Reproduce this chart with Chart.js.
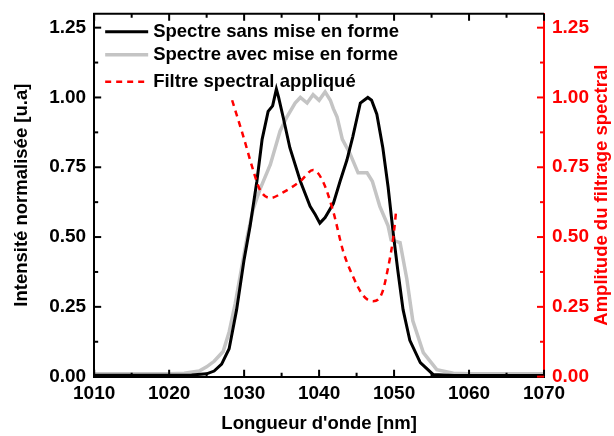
<!DOCTYPE html>
<html>
<head>
<meta charset="utf-8">
<script src="https://cdn.jsdelivr.net/npm/chart.js@4.4.1/dist/chart.umd.min.js"></script>
<style>
  html, body { margin: 0; padding: 0; background: #fff; }
  #wrap { width: 614px; height: 436px; }
</style>
</head>
<body>
<div id="wrap"><canvas id="spectre" width="614" height="436"></canvas></div>
<script>
// Spectre sans mise en forme (noir)
const sansNm = [1010, 1015, 1020, 1023, 1025, 1026, 1027, 1028, 1029, 1030, 1030.8, 1031.7, 1032.4, 1033.2, 1033.8, 1034.3, 1034.6, 1035.2, 1036.1, 1037.5, 1038.8, 1039.5, 1040.1, 1040.8, 1041.9, 1042.8, 1043.7, 1044.5, 1045.5, 1046.0, 1046.5, 1047.0, 1047.7, 1048.5, 1049.2, 1049.9, 1050.5, 1051.2, 1052.1, 1053.5, 1055.2, 1058, 1062, 1066, 1070];
const sansVal = [0.005, 0.005, 0.005, 0.006, 0.01, 0.02, 0.045, 0.10, 0.24, 0.42, 0.54, 0.70, 0.85, 0.95, 0.97, 1.03, 1.00, 0.93, 0.82, 0.70, 0.61, 0.58, 0.55, 0.57, 0.62, 0.70, 0.775, 0.86, 0.98, 0.99, 1.00, 0.99, 0.94, 0.82, 0.68, 0.51, 0.38, 0.24, 0.13, 0.05, 0.008, 0.004, 0.004, 0.004, 0.004];

// Spectre avec mise en forme (gris)
const avecNm = [1010, 1015, 1020, 1022, 1024, 1025, 1026, 1027.2, 1028, 1028.8, 1029.6, 1030.4, 1031.2, 1032.1, 1033.5, 1034.8, 1035.7, 1036.8, 1037.5, 1038.4, 1039.2, 1040, 1040.8, 1041.5, 1041.9, 1042.4, 1043.1, 1044.1, 1045.2, 1046.4, 1047.1, 1048.1, 1049.2, 1049.6, 1050.8, 1051.7, 1052.5, 1053.9, 1055.7, 1057.9, 1060, 1065, 1070];
const avecVal = [0.01, 0.01, 0.01, 0.012, 0.02, 0.035, 0.055, 0.09, 0.16, 0.26, 0.38, 0.50, 0.60, 0.67, 0.76, 0.88, 0.93, 0.98, 1.00, 0.98, 1.01, 0.99, 1.02, 0.99, 0.96, 0.93, 0.85, 0.80, 0.73, 0.73, 0.70, 0.61, 0.54, 0.49, 0.48, 0.35, 0.20, 0.086, 0.025, 0.012, 0.01, 0.01, 0.01];

// Filtre spectral appliqué (rouge, axe de droite)
const filtreNm = [1028.4, 1029.9, 1031.2, 1032.1, 1033.5, 1035.2, 1037.5, 1039.2, 1040.5, 1041.9, 1043.2, 1044.5, 1045.9, 1047.2, 1048.4, 1049.2, 1049.9, 1050.3];
const filtreVal = [0.99, 0.86, 0.74, 0.67, 0.64, 0.66, 0.70, 0.74, 0.70, 0.59, 0.45, 0.36, 0.29, 0.27, 0.30, 0.39, 0.50, 0.60];

const xTicks = [1010, 1020, 1030, 1040, 1050, 1060, 1070];
const yTicks = [0, 0.25, 0.5, 0.75, 1.0, 1.25];
const rightTitle = "Amplitude du filtrage spectral";

const toPoints = (xs, ys) => xs.map((x, i) => ({ x: x, y: ys[i] }));

const FONT = "'Liberation Sans', Arial, sans-serif";

// frame top + inner ticks (major and minor) + right title reading upward
const frameTicks = {
  id: "frameTicks",
  afterDatasetsDraw(chart) {
    const { ctx, chartArea: a, scales } = chart;
    ctx.save();
    ctx.lineWidth = 2;
    ctx.strokeStyle = "#000";
    ctx.beginPath();
    ctx.moveTo(a.left - 1, a.top);
    ctx.lineTo(a.right, a.top);
    ctx.stroke();

    for (let v = 1010; v <= 1070; v += 5) {
      const px = scales.x.getPixelForValue(v);
      const len = v % 10 === 0 ? 7 : 4;
      ctx.beginPath();
      ctx.moveTo(px, a.bottom);
      ctx.lineTo(px, a.bottom - len);
      ctx.moveTo(px, a.top);
      ctx.lineTo(px, a.top + len);
      ctx.stroke();
    }
    for (let i = 0; i <= 10; i++) {
      const v = i * 0.125;
      const len = i % 2 === 0 ? 7 : 4;
      const py = scales.y.getPixelForValue(v);
      ctx.strokeStyle = "#000";
      ctx.beginPath();
      ctx.moveTo(a.left, py);
      ctx.lineTo(a.left + len, py);
      ctx.stroke();
      const py1 = scales.y1.getPixelForValue(v);
      ctx.strokeStyle = "#ff0000";
      ctx.beginPath();
      ctx.moveTo(a.right, py1);
      ctx.lineTo(a.right - len, py1);
      ctx.stroke();
    }

    ctx.translate(602, (a.top + a.bottom) / 2);
    ctx.rotate(-Math.PI / 2);
    ctx.font = "bold 18.5px " + FONT;
    ctx.fillStyle = "#ff0000";
    ctx.textAlign = "center";
    ctx.textBaseline = "middle";
    ctx.fillText(rightTitle, 0, 0);
    ctx.restore();
  },
};

// legend drawn inside the plot, top-left
const insideLegend = {
  id: "insideLegend",
  afterDraw(chart) {
    const { ctx, chartArea: a } = chart;
    const rows = [18, 41, 68];
    ctx.save();
    ctx.font = "bold 18.5px " + FONT;
    ctx.textBaseline = "middle";
    chart.data.datasets.forEach((ds, i) => {
      const y = a.top + rows[i];
      ctx.strokeStyle = ds.borderColor;
      ctx.lineWidth = ds.borderWidth;
      ctx.setLineDash(ds.borderDash || []);
      ctx.beginPath();
      ctx.moveTo(a.left + 11, y);
      ctx.lineTo(a.left + 54, y);
      ctx.stroke();
      ctx.setLineDash([]);
      ctx.fillStyle = "#000";
      ctx.fillText(ds.label, a.left + 59, y);
    });
    ctx.restore();
  },
};

new Chart(document.getElementById("spectre"), {
  type: "line",
  data: {
    datasets: [
      {
        label: "Spectre sans mise en forme",
        data: toPoints(sansNm, sansVal),
        borderColor: "#000000",
        borderWidth: 3,
        pointRadius: 0,
        tension: 0,
        yAxisID: "y",
        order: 1,
      },
      {
        label: "Spectre avec mise en forme",
        data: toPoints(avecNm, avecVal),
        borderColor: "#c4c4c4",
        borderWidth: 3.5,
        pointRadius: 0,
        tension: 0,
        yAxisID: "y",
        order: 2,
      },
      {
        label: "Filtre spectral appliqué",
        data: toPoints(filtreNm, filtreVal),
        borderColor: "#ff0000",
        borderWidth: 2.5,
        borderDash: [6, 5],
        pointRadius: 0,
        cubicInterpolationMode: "monotone",
        yAxisID: "y1",
        order: 0,
      },
    ],
  },
  options: {
    responsive: false,
    animation: false,
    layout: { padding: { top: 1, right: 17, bottom: 0, left: 11 } },
    plugins: {
      legend: { display: false },
      tooltip: { enabled: false },
    },
    scales: {
      x: {
        type: "linear",
        min: 1010,
        max: 1070,
        afterBuildTicks: (s) => { s.ticks = xTicks.map((v) => ({ value: v })); },
        grid: { display: false, drawTicks: false },
        border: { color: "#000", width: 2 },
        ticks: { color: "#000", padding: 8, maxRotation: 0, callback: (v) => String(v), font: { family: FONT, size: 19, weight: "bold", lineHeight: 1 } },
        title: { display: true, text: "Longueur d'onde [nm]", color: "#000", padding: { top: 2, bottom: 2 }, font: { family: FONT, size: 18.5, weight: "bold", lineHeight: 1.1 } },
      },
      y: {
        position: "left",
        min: 0,
        max: 1.3,
        afterBuildTicks: (s) => { s.ticks = yTicks.map((v) => ({ value: v })); },
        grid: { display: false, drawTicks: false },
        border: { color: "#000", width: 2 },
        ticks: { color: "#000", padding: 8, callback: (v) => v.toFixed(2), font: { family: FONT, size: 19, weight: "bold", lineHeight: 0.6 } },
        title: { display: true, text: "Intensité normalisée [u.a]", color: "#000", padding: { top: 0, bottom: 8 }, font: { family: FONT, size: 18.5, weight: "bold" } },
      },
      y1: {
        position: "right",
        min: 0,
        max: 1.3,
        afterBuildTicks: (s) => { s.ticks = yTicks.map((v) => ({ value: v })); },
        grid: { display: false, drawTicks: false },
        border: { color: "#ff0000", width: 2 },
        ticks: { color: "#ff0000", padding: 8, callback: (v) => v.toFixed(2), font: { family: FONT, size: 19, weight: "bold", lineHeight: 0.6 } },
      },
    },
  },
  plugins: [frameTicks, insideLegend],
});
</script>
</body>
</html>
